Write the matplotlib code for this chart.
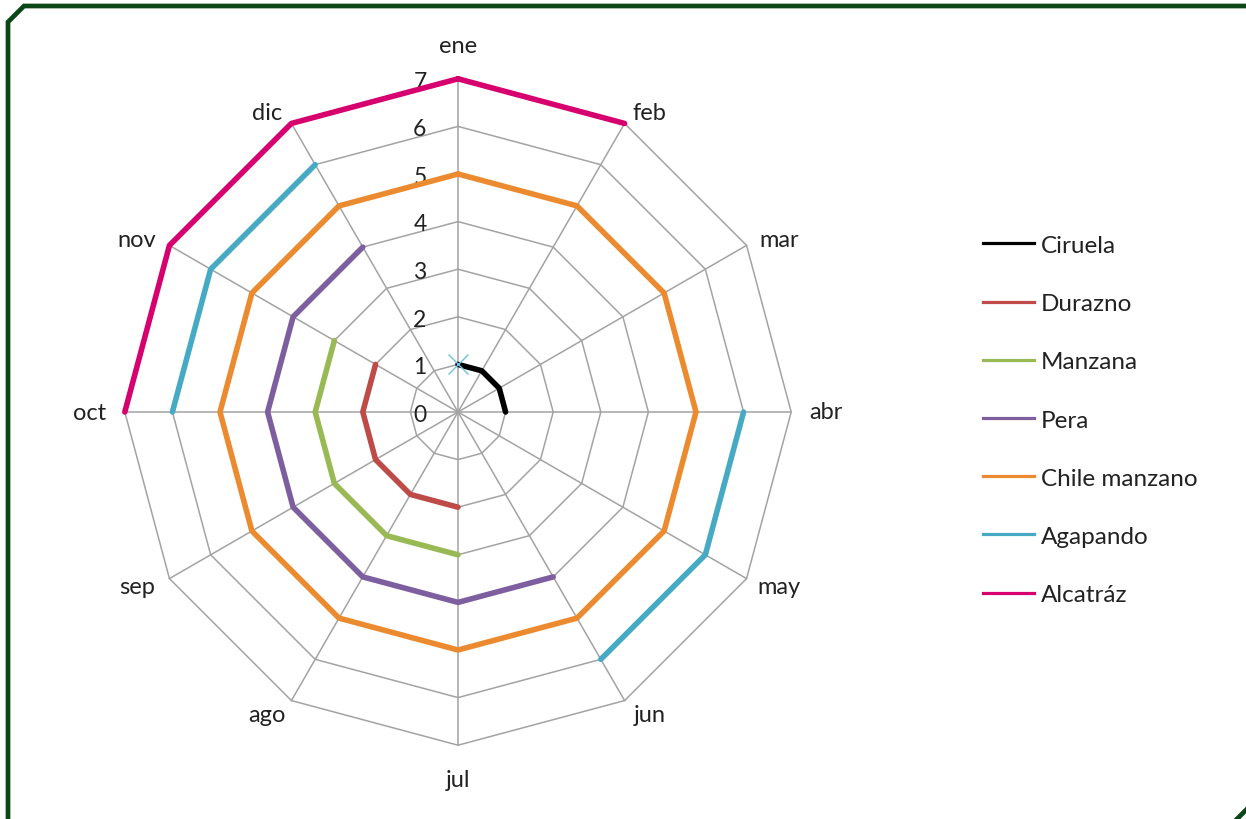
import matplotlib
matplotlib.use('Agg')
import matplotlib.pyplot as plt
from matplotlib.lines import Line2D
import numpy as np

plt.rcParams['font.family'] = ['Lato', 'DejaVu Sans']

nan = np.nan
months = ['ene', 'feb', 'mar', 'abr', 'may', 'jun', 'jul', 'ago', 'sep', 'oct', 'nov', 'dic']
rings = [0, 1, 2, 3, 4, 5, 6, 7]

ciruela = [1, 1, 1, 1, nan, nan, nan, nan, nan, nan, nan, nan]
durazno = [nan, nan, nan, nan, nan, nan, 2, 2, 2, 2, 2, nan]
manzana = [nan, nan, nan, nan, nan, nan, 3, 3, 3, 3, 3, nan]
pera = [nan, nan, nan, nan, nan, 4, 4, 4, 4, 4, 4, 4]
chile_manzano = [5, 5, 5, 5, 5, 5, 5, 5, 5, 5, 5, 5]
agapando = [nan, nan, nan, 6, 6, 6, nan, nan, nan, 6, 6, 6]
alcatraz = [7, 7, nan, nan, nan, nan, nan, nan, nan, 7, 7, 7]

# lone Agapando point in January, shown only as a marker
agapando_punto_mes = 'ene'
agapando_punto_valor = 1

series = [
    ('Ciruela', ciruela, '#000000'),
    ('Durazno', durazno, '#be4b48'),
    ('Manzana', manzana, '#98b954'),
    ('Pera', pera, '#7d5fa0'),
    ('Chile manzano', chile_manzano, '#ec8a30'),
    ('Agapando', agapando, '#46aac4'),
    ('Alcatráz', alcatraz, '#d6006f'),
]

W, H = 1246, 820
fig = plt.figure(figsize=(W / 100, H / 100), dpi=100)
ax = fig.add_axes([0, 0, 1, 1])

# centre of the web at (458, 413) px, 47.6 px per unit
cx, cy, unit = 458, 413, 47.6
ax.set_xlim(-cx / unit, (W - cx) / unit)
ax.set_ylim(-(H - cy) / unit, cy / unit)
ax.axis('off')

theta = np.arange(len(months)) * 2 * np.pi / len(months)
sx, cy_ = np.sin(theta), np.cos(theta)

def to_xy(vals):
    v = np.asarray(vals, dtype=float)
    v = np.append(v, v[0])
    t = np.append(theta, theta[0])
    return v * np.sin(t), v * np.cos(t)

# web grid
grid_c = '#a3a3a3'
for r in rings[1:]:
    x, y = to_xy([r] * len(months))
    ax.plot(x, y, color=grid_c, lw=1.1, zorder=1)
for s, c in zip(sx, cy_):
    ax.plot([0, rings[-1] * s], [0, rings[-1] * c], color=grid_c, lw=1.1, zorder=1)

for r in rings:
    ax.text(-0.8, r - 0.05, str(r), ha='center', va='center', fontsize=16.5, color='#222222', zorder=2)

# category labels sit just outside the spoke ends
rmax = rings[-1]
for m, s, c in zip(months, sx, cy_):
    dx = 35 * np.sign(s) * np.sqrt(abs(s))
    if c >= 0:
        dy = np.interp(c, [0, 0.5, 0.866, 1], [0, 6, 11, 33])
    else:
        dy = -np.interp(-c, [0, 0.5, 0.866, 1], [0, 8, 14, 34])
    ax.annotate(m, xy=(rmax * s, rmax * c), xytext=(dx, dy), textcoords='offset pixels',
                ha='center', va='center', fontsize=17, color='#222222')

handles = []
for name, vals, col in series:
    x, y = to_xy(vals)
    ax.plot(x, y, color=col, lw=4.0, solid_capstyle='round', solid_joinstyle='round', zorder=3)
    handles.append(Line2D([], [], color=col, lw=2.3, label=name))

k = months.index(agapando_punto_mes)
ax.plot(agapando_punto_valor * sx[k], agapando_punto_valor * cy_[k], marker='x', ms=14, mew=1.0,
        color='#6cc4dc', zorder=4)

leg = ax.legend(handles=handles, loc='center left', bbox_to_anchor=(961 / W, 1 - 421 / H),
                bbox_transform=fig.transFigure, frameon=False, fontsize=17.5,
                handlelength=2.1, handletextpad=0.3, labelspacing=1.53)
for t in leg.get_texts():
    t.set_color('#222222')

# dark green frame with clipped corners
fx = [8, 8, 24, 1250, 1250, 1234, 8]
fy = [830, 23, 7, 7, 807, 823, 823]
fig.add_artist(Line2D([x / W for x in fx], [1 - y / H for y in fy], transform=fig.transFigure,
                      color='#0b4619', lw=3.4, solid_joinstyle='miter'))

fig.savefig('out.png', dpi=100)
